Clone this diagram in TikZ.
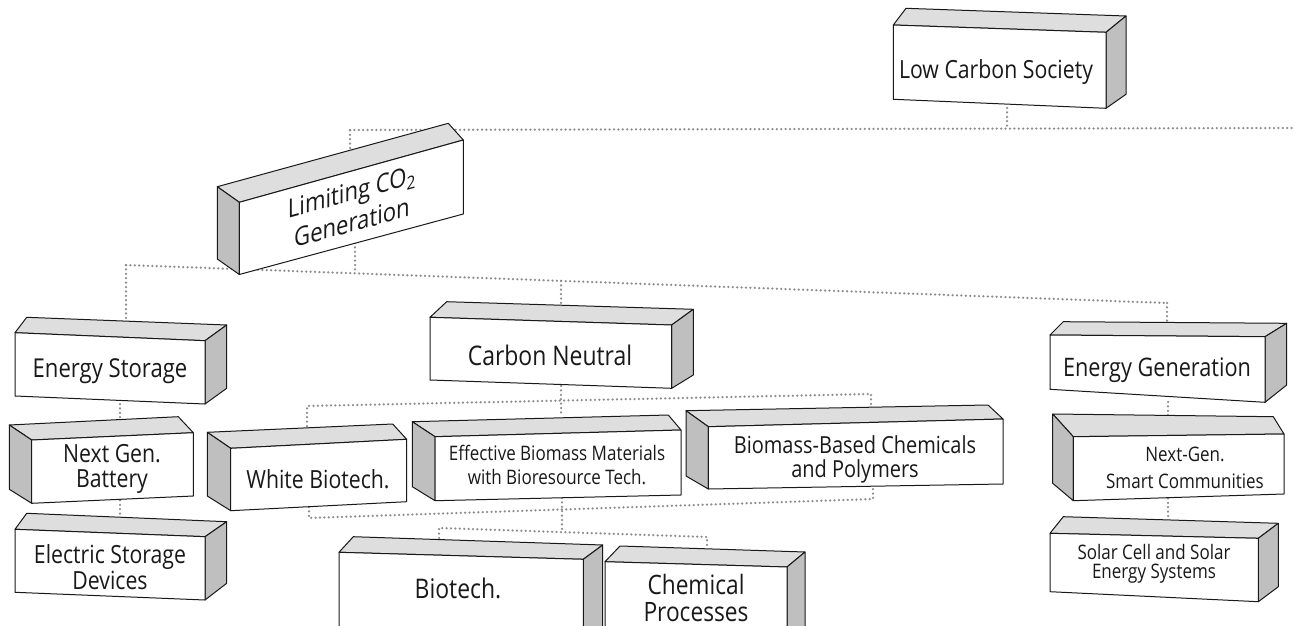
\documentclass[tikz,border=0pt]{standalone}
\usepackage{fontspec}
\setmainfont{Open Sans}[FakeStretch=0.85]
\pgfdeclarelayer{bg}
\pgfsetlayers{bg,main}
\newcommand\fs[2]{\fontsize{#1}{#2}\selectfont}
\tikzset{
  face/.style={draw=black!90, line width=1pt, line join=round},
  frontf/.style={face, fill=white},
  topf/.style={face, fill=black!13},
  sidef/.style={face, fill=black!25},
  link/.style={draw=black!45, line width=2.5pt, dash pattern=on 0pt off 4.4pt, line cap=round},
  lbl/.style={inner sep=0pt, align=center, text=black!90},
}
% box with shaded side on the right: name, tl, tr, br, bl, back-tl, back-tr, back-br
\newcommand\rbox[8]{%
  \coordinate (#1-tl) at (#2); \coordinate (#1-tr) at (#3);
  \coordinate (#1-br) at (#4); \coordinate (#1-bl) at (#5);
  \coordinate (#1-ktl) at (#6); \coordinate (#1-ktr) at (#7);
  \coordinate (#1-kbr) at (#8);
  \path[topf] (#1-tl) -- (#1-ktl) -- (#1-ktr) -- (#1-tr) -- cycle;
  \path[sidef] (#1-tr) -- (#1-ktr) -- (#1-kbr) -- (#1-br) -- cycle;
  \path[frontf] (#1-tl) -- (#1-tr) -- (#1-br) -- (#1-bl) -- cycle;
}
% box with shaded side on the left: name, tl, tr, br, bl, back-tl, back-tr, back-bl
\newcommand\lbox[8]{%
  \coordinate (#1-tl) at (#2); \coordinate (#1-tr) at (#3);
  \coordinate (#1-br) at (#4); \coordinate (#1-bl) at (#5);
  \coordinate (#1-ktl) at (#6); \coordinate (#1-ktr) at (#7);
  \coordinate (#1-kbl) at (#8);
  \path[topf] (#1-tl) -- (#1-ktl) -- (#1-ktr) -- (#1-tr) -- cycle;
  \path[sidef] (#1-tl) -- (#1-ktl) -- (#1-kbl) -- (#1-bl) -- cycle;
  \path[frontf] (#1-tl) -- (#1-tr) -- (#1-br) -- (#1-bl) -- cycle;
}
\begin{document}
\begin{tikzpicture}[x=1pt,y=-1pt]
\useasboundingbox (0,0) rectangle (1294,626);
\clip (0,0) rectangle (1294,626);

% ---------- boxes ----------
\rbox{lcs}{893.3,25}{1106,32.3}{1106,108.3}{893.3,99.3}{906,8.3}{1126,16}{1126,94.3}
\lbox{lim}{239.3,202.3}{463.3,140}{463.3,214}{239.3,274.5}{217.3,186.7}{448.3,123.3}{217.3,259}
\rbox{es}{15,332.7}{205,340.7}{205,404}{15,396}{26.7,317.3}{226.7,325}{226.7,388.3}
\lbox{ngb}{31.7,440}{193.3,432.7}{193.3,496}{31.7,503.3}{9.3,425}{178.3,416.7}{9.3,489.3}
\rbox{esd}{15,529.3}{205,536.7}{205,600}{15,592.3}{26.7,513.3}{226.7,521.7}{226.7,583.3}
\rbox{cn}{430,317.3}{671.7,325}{671.7,388.3}{430,380}{446.7,301.7}{693.3,309.3}{693.3,375}
\lbox{wb}{230.7,448.3}{406.7,439.3}{406.7,501.7}{230.7,510.7}{207.3,432.3}{392.7,424}{207.3,496}
\lbox{ebm}{435,436.7}{681,430}{681,495}{435,500.7}{412.3,421.7}{668.3,415}{412.3,486.7}
\lbox{bbc}{708.3,426.7}{1003,419}{1003,484}{708.3,489}{686,410.7}{988,405}{686,476}
\rbox{bt}{339,552.3}{583.3,559.3}{583.3,650}{339,643}{353.3,536.7}{602.7,545}{602.7,635}
\rbox{cp}{605,561.7}{787,567}{787,660}{605,655}{620,546}{805,552}{805,645}
\rbox{eg}{1050,335}{1265,336.7}{1265,402.3}{1050,389.3}{1063.3,321.7}{1286.7,323.3}{1286.7,385}
\lbox{nsc}{1073.3,436.7}{1284,434}{1284,494}{1073.3,500.7}{1052.7,414}{1273.3,416.7}{1052.7,483.3}
\rbox{sc}{1050,533.3}{1258.3,538.3}{1258.3,601.7}{1050,591.7}{1063.3,516.7}{1278.3,523.3}{1278.3,586.7}

% ---------- labels ----------
\node[lbl, font=\fs{25}{30}] (lcsT) at (996,72) {Low Carbon Society};
\node[lbl, yslant=0.274, font=\fs{26}{31}] (limT) at (352,207) {Limiting CO\textsubscript{2}\\Generation};
\node[lbl, font=\fs{26}{28}] (esT) at (110,371) {Energy Storage};
\node[lbl, font=\fs{25}{25}] (ngbT) at (112,469) {Next Gen.\\Battery};
\node[lbl, font=\fs{25}{26.7}] (esdT) at (110,567) {Electric Storage\\Devices};
\node[lbl, font=\fs{27}{30}] (cnT) at (550,355) {Carbon Neutral};
\node[lbl, font=\fs{25}{28}] (wbT) at (318,479) {White Biotech.};
\node[lbl, font=\fs{20}{24}] (ebmT) at (557,465) {Effective Biomass Materials\\with Bioresource Tech.};
\node[lbl, font=\fs{23.5}{24}] (bbcT) at (855,459) {Biomass-Based Chemicals\\and Polymers};
\node[lbl, font=\fs{27}{30}] (btT) at (458,588) {Biotech.};
\node[lbl, font=\fs{26.7}{26.7}] (cpT) at (696,598) {Chemical\\Processes};
\node[lbl, font=\fs{25.5}{28}] (egT) at (1157,370) {Energy Generation};
\node[lbl, font=\fs{20}{27}] (nscT) at (1185,468) {Next-Gen.\\Smart Communities};
\node[lbl, font=\fs{20}{19}] (scT) at (1154,564) {Solar Cell and Solar\\Energy Systems};

% ---------- connectors ----------
\coordinate (top0) at (350,130);
\coordinate (top1) at (1294,128);
\coordinate (lcsJ) at (1007,128.6);
\coordinate (lcsB) at (1007,108);
\coordinate (limTop) at (350,148);
\coordinate (limB) at (355,243);
\coordinate (mid0) at (126,265);
\coordinate (mid1) at (1167,303);
\coordinate (limJ) at (355,273.4);
\coordinate (esTop) at (126,320);
\coordinate (cnJ) at (561,280.9);
\coordinate (cnTop) at (561,304);
\coordinate (egTop) at (1167,322);
\coordinate (esB) at (120,404);
\coordinate (ngbTop) at (120,419);
\coordinate (ngbB) at (120,496);
\coordinate (esdTop) at (120,515);
\coordinate (cnB) at (561,386);
\coordinate (ebmTop) at (561,416);
\coordinate (c0) at (307,406);
\coordinate (c1) at (871,394);
\coordinate (wbTop) at (307,426);
\coordinate (bbcTop) at (871,406);
\coordinate (wbB) at (309,507);
\coordinate (w0) at (309,518);
\coordinate (w1) at (873,499);
\coordinate (bbcB) at (873,487);
\coordinate (ebmB) at (562,498);
\coordinate (lowJ) at (562,532);
\coordinate (l0) at (439,528);
\coordinate (l1) at (707,537);
\coordinate (btTop) at (439,538);
\coordinate (cpTop) at (707,547);
\coordinate (egB) at (1168,402);
\coordinate (nscTop) at (1168,418);
\coordinate (nscB) at (1168,494);
\coordinate (scTop) at (1168,518);

\begin{pgfonlayer}{bg}
\draw[link] (top0) -- (top1);
\draw[link] (lcsB) -- (lcsJ);
\draw[link] (limTop) -- (top0);
\draw[link] (mid0) -- (mid1);
\draw[link] (limB) -- (limJ);
\draw[link] (mid0) -- (esTop);
\draw[link] (cnJ) -- (cnTop);
\draw[link] (mid1) -- (egTop);
\draw[link] (esB) -- (ngbTop);
\draw[link] (ngbB) -- (esdTop);
\draw[link] (cnB) -- (ebmTop);
\draw[link] (wbTop) -- (c0) -- (c1) -- (bbcTop);
\draw[link] (wbB) -- (w0) -- (w1) -- (bbcB);
\draw[link] (ebmB) -- (lowJ);
\draw[link] (btTop) -- (l0) -- (l1) -- (cpTop);
\draw[link] (egB) -- (nscTop);
\draw[link] (nscB) -- (scTop);
\end{pgfonlayer}
\end{tikzpicture}
\end{document}
